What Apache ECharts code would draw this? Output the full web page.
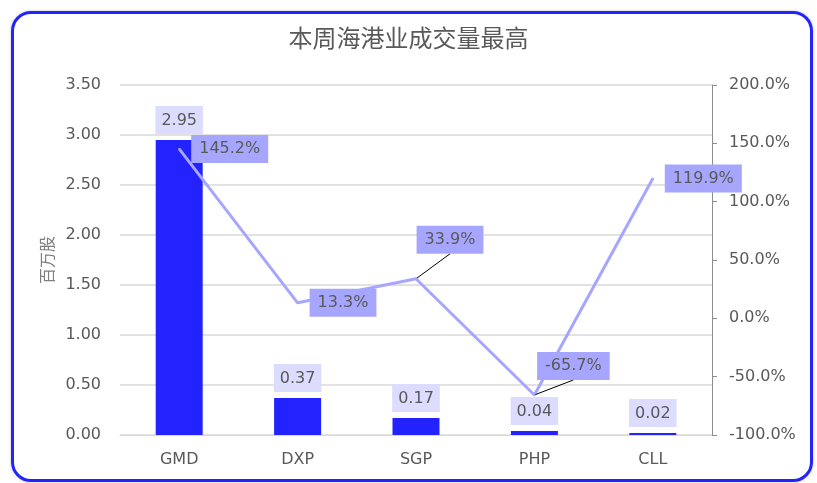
<!DOCTYPE html>
<html>
<head>
<meta charset="utf-8">
<script src="https://cdn.jsdelivr.net/npm/echarts@6/dist/echarts.min.js"></script>
<style>
  html, body { margin: 0; padding: 0; background: #fff; }
  .chart-wrapper { position: relative; width: 817px; height: 483px; }
  #chart { width: 817px; height: 483px; }
  .chart-border {
    position: absolute;
    left: 11px;
    top: 11px;
    width: 796px;
    height: 465px;
    border: 3px solid #2323ff;
    border-radius: 20px;
    box-shadow: 0 0 3px rgba(0, 0, 0, 0.25);
    pointer-events: none;
  }
</style>
</head>
<body>
<div class="chart-wrapper">
  <div id="chart"></div>
  <div class="chart-border"></div>
</div>
<script>
// 数据
const categories = ['GMD', 'DXP', 'SGP', 'PHP', 'CLL']
const volumes = [2.95, 0.37, 0.17, 0.04, 0.02]
const changes = [145.2, 13.3, 33.9, -65.7, 119.9]

const textColor = '#595959'
const fontFamily = 'DejaVu Sans'
const fontSize = 16

// 涨跌幅标签位置（有引导线的两个点单独挪开）
const lineLabel = (i) => {
  if (i === 2) return { position: 'inside', offset: [34, -39] }
  if (i === 3) return { position: 'inside', offset: [39, -29] }
  return { position: 'right', distance: 11 }
}

const chart = echarts.init(document.getElementById('chart'))

const option = {
  backgroundColor: '#fff',
  animation: false,
  textStyle: { fontFamily: fontFamily },
  title: {
    text: '本周海港业成交量最高',
    left: 'center',
    top: 21,
    textStyle: {
      fontFamily: 'Noto Sans CJK SC',
      fontSize: 24,
      fontWeight: 'normal',
      color: textColor
    }
  },
  grid: {
    left: 120,
    right: 105,
    top: 85,
    bottom: 48
  },
  xAxis: {
    type: 'category',
    data: categories,
    axisTick: { show: false },
    axisLine: { lineStyle: { color: '#d9d9d9', width: 1 } },
    axisLabel: { color: textColor, fontSize: fontSize, margin: 17 }
  },
  yAxis: [
    {
      type: 'value',
      min: 0,
      max: 3.5,
      interval: 0.5,
      name: '百万股',
      nameLocation: 'middle',
      nameRotate: 90,
      nameGap: 64,
      nameTextStyle: {
        fontFamily: 'Noto Sans CJK SC',
        color: '#7f7f7f',
        fontSize: 16
      },
      axisLine: { show: false },
      axisTick: { show: false },
      axisLabel: {
        color: textColor,
        fontSize: fontSize,
        margin: 19,
        formatter: (v) => v.toFixed(2)
      },
      splitLine: { lineStyle: { color: '#d9d9d9', width: 1.5 } }
    },
    {
      type: 'value',
      min: -100,
      max: 200,
      interval: 50,
      position: 'right',
      axisLine: { show: true, lineStyle: { color: '#8c8c8c' } },
      axisTick: { show: true, length: 5, lineStyle: { color: '#8c8c8c' } },
      axisLabel: {
        color: textColor,
        fontSize: fontSize,
        margin: 17,
        formatter: (v) => v.toFixed(1) + '%'
      },
      splitLine: { show: false }
    }
  ],
  series: [
    {
      name: '成交量',
      type: 'bar',
      yAxisIndex: 0,
      data: volumes,
      barWidth: 47,
      itemStyle: { color: '#2323ff' },
      label: {
        show: true,
        position: 'top',
        distance: 6,
        color: textColor,
        fontSize: fontSize,
        backgroundColor: '#dcdcff',
        padding: [5, 6, 4, 6],
        lineHeight: 19,
        formatter: (p) => p.value.toFixed(2)
      }
    },
    {
      name: '涨跌幅',
      type: 'line',
      yAxisIndex: 1,
      symbol: 'circle',
      symbolSize: 2,
      lineStyle: { color: '#a6a6ff', width: 3 },
      itemStyle: { color: '#a6a6ff' },
      label: {
        show: true,
        color: textColor,
        fontSize: fontSize,
        backgroundColor: '#a6a6ff',
        padding: [5, 8, 4, 8],
        lineHeight: 19,
        formatter: (p) => p.value.toFixed(1) + '%'
      },
      labelLine: {
        lineStyle: { color: '#000', width: 1 }
      },
      data: changes.map((v, i) => ({
        value: v,
        label: lineLabel(i),
        labelLine: { show: i === 2 || i === 3, lineStyle: { color: '#000', width: 1 } }
      }))
    }
  ]
}

chart.setOption(option)
</script>
</body>
</html>
